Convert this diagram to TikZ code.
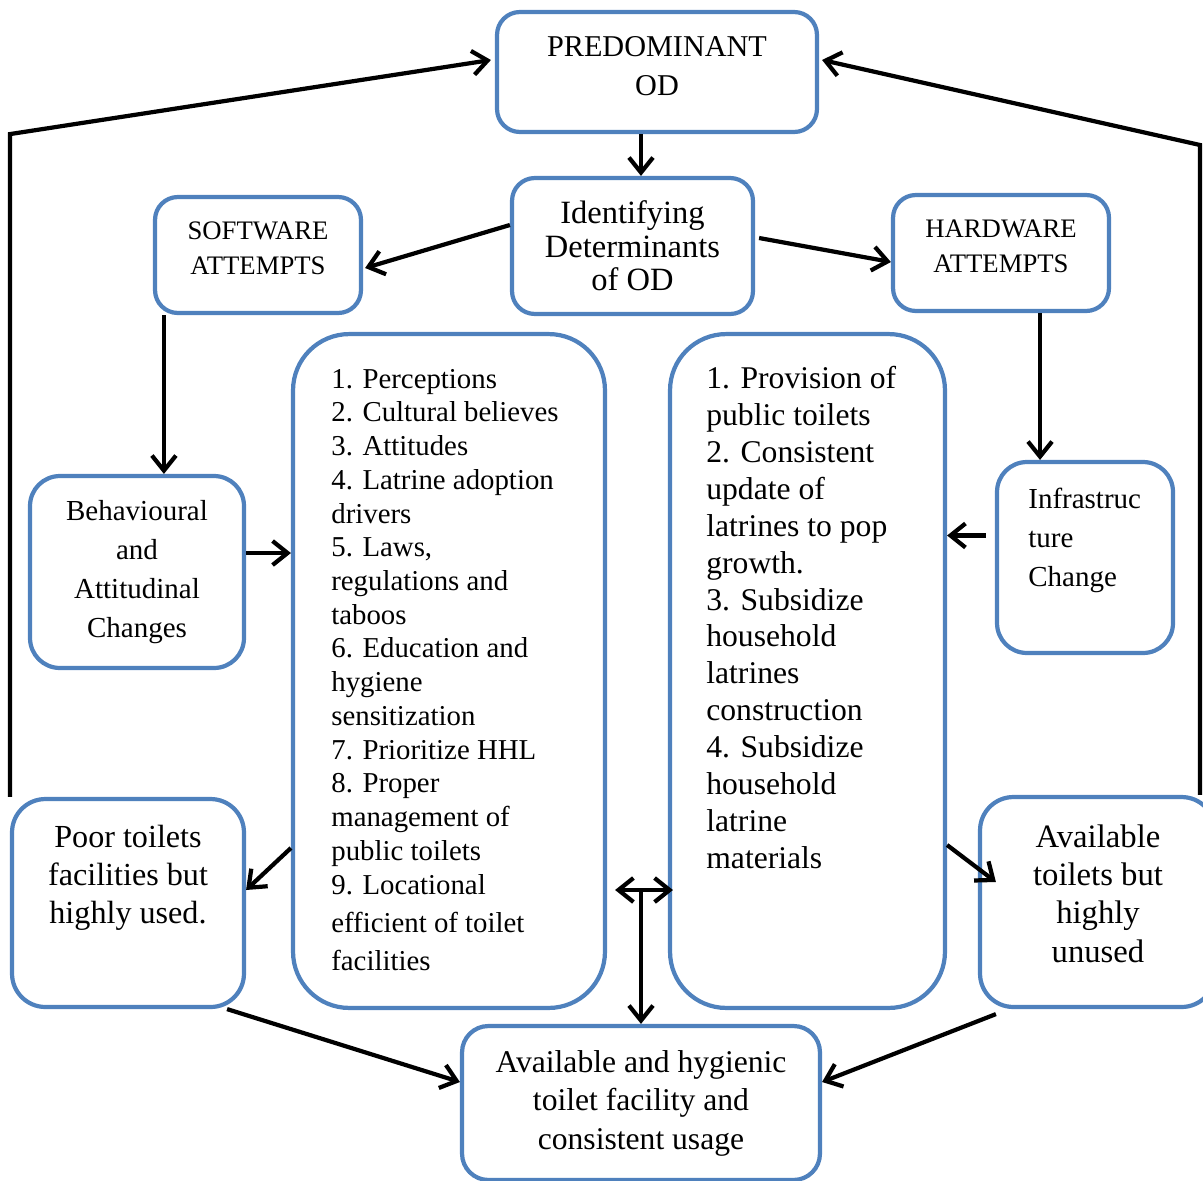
\documentclass[tikz,border=0pt]{standalone}
\usepackage{fontspec}
\setmainfont{Liberation Serif}
\usetikzlibrary{positioning,arrows.meta,calc}
\definecolor{boxblue}{RGB}{79,129,189}

\begin{document}
\begin{tikzpicture}[
  x=0.02cm, y=-0.02cm,
  box/.style={draw=boxblue, line width=2.4pt, rounded corners=13pt, fill=white,
              align=center, inner sep=0pt},
  listbox/.style={box, rounded corners=32pt},
  txt/.style={align=center, inner sep=0pt},
  ltxt/.style={align=left, inner sep=0pt, anchor=west},
  arr/.style={line width=2.4pt, -{Straight Barb[length=3mm,width=4.8mm]}},
  dbl/.style={line width=2.4pt, {Straight Barb[length=3mm,width=4.8mm]}-{Straight Barb[length=3mm,width=4.8mm]}}
]
\useasboundingbox (0,0) rectangle (1203,1180);
% boxes
\node[box, minimum width=6.4cm, minimum height=2.4cm] (pred) at (657,72) {};
\node[txt, font=\fontsize{17.2pt}{22pt}\selectfont] (pred-t) at (657,66) {PREDOMINANT\\OD};
\node[box, minimum width=4.82cm, minimum height=2.72cm,
      font=\fontsize{18.5pt}{19pt}\selectfont] (ident) at (632.5,246) {Identifying\\Determinants\\of OD};
\node[box, minimum width=4.12cm, minimum height=2.32cm] (soft) at (258,255) {};
\node[txt, font=\fontsize{15.2pt}{20pt}\selectfont] (soft-t) at (258,248.5) {SOFTWARE\\ATTEMPTS};
\node[box, minimum width=4.32cm, minimum height=2.32cm] (hard) at (1001,253) {};
\node[txt, font=\fontsize{15.2pt}{20pt}\selectfont] (hard-t) at (1001,246.5) {HARDWARE\\ATTEMPTS};
\node[box, rounded corners=17pt, minimum width=4.28cm, minimum height=3.84cm,
      font=\fontsize{16.5pt}{22.2pt}\selectfont] (behav) at (137,572) {Behavioural\\and\\Attitudinal\\Changes};
\node[listbox, minimum width=6.24cm, minimum height=13.48cm] (softlist) at (449,671) {};
\node[ltxt, font=\fontsize{16.4pt}{19.2pt}\selectfont] (softlist-t) at (331,670) {1. Perceptions\\
2. Cultural believes\\
3. Attitudes\\
4. Latrine adoption\\
drivers\\
5. Laws,\\
regulations and\\
taboos\\
6. Education and\\
hygiene\\
sensitization\\
7. Prioritize HHL\\
8. Proper\\
management of\\
public toilets\\
9. Locational\\[2.6pt]
efficient of toilet\\[2.6pt]
facilities};
\node[listbox, minimum width=5.5cm, minimum height=13.48cm] (hardlist) at (807.5,671) {};
\node[ltxt, font=\fontsize{18pt}{21pt}\selectfont] (hardlist-t) at (706,617.5) {1. Provision of\\
public toilets\\
2. Consistent\\
update of\\
latrines to pop\\
growth.\\
3. Subsidize\\
household\\
latrines\\
construction\\
4. Subsidize\\
household\\
latrine\\
materials};
\node[box, rounded corners=17pt, minimum width=3.52cm, minimum height=3.82cm] (infra) at (1085,557.5) {};
\node[ltxt, font=\fontsize{16.5pt}{22.2pt}\selectfont] (infra-t) at (1028,540) {Infrastruc\\ture\\Change};
\node[box, rounded corners=19pt, minimum width=4.64cm, minimum height=4.16cm] (poor) at (128,903) {};
\node[txt, font=\fontsize{18.3pt}{21.6pt}\selectfont] (poor-t) at (128,878) {Poor toilets\\facilities but\\highly used.};
\node[box, rounded corners=19pt, minimum width=4.7cm, minimum height=4.2cm] (avail) at (1097.5,902) {};
\node[txt, font=\fontsize{18.6pt}{21.8pt}\selectfont] (avail-t) at (1098,893.5) {Available\\toilets but\\highly\\unused};
\node[box, rounded corners=15pt, minimum width=7.16cm, minimum height=3.08cm,
      font=\fontsize{18pt}{21.9pt}\selectfont] (goal) at (641,1103) {Available and hygienic\\toilet facility and\\consistent usage};
\coordinate (rtop) at (1200,145);
% connectors
\draw[arr] (pred.south -| goal.north) -- (ident.north -| goal.north);
\draw[arr] ($(ident.west)+(0,-21)$) -- ($(soft.east)+(2,13)$);
\draw[arr] ($(ident.east)+(4,-8)$) -- ($(hard.west)+(0,9)$);
\draw[arr] ($(soft.south west)+(11,0)$) -- ($(soft.south west |- behav.north)+(11,0)$);
\draw[arr] ($(hard.south)+(39,0)$) -- ($(hard.south |- infra.north)+(39,0)$);
\draw[arr] ($(behav.east)+(0,-19)$) -- ($(behav.east -| softlist.west)+(0,-19)$);
\draw[arr] ($(infra.west)+(-9,-22)$) -- ($(infra.west -| hardlist.east)+(0,-22)$);
\draw[arr] ($(softlist.west)+(0,177)$) -- ($(poor.east)+(0,-13)$);
\draw[arr] ($(hardlist.east)+(0,174)$) -- ($(avail.west)+(18,-20)$);
\draw[dbl] ($(softlist.east)+(8,219)$) -- ($(hardlist.west)+(5,219)$);
\draw[arr] ($(softlist.east -| goal.north)+(0,219)$) -- (goal.north);
\draw[arr] ($(poor.south east)+(-19,0)$) -- ($(goal.west)+(0,-21)$);
\draw[arr] ($(avail.south west)+(18,5)$) -- ($(goal.east)+(0,-21)$);
\draw[arr] (poor.north west) -- (poor.north west |- pred.south) -- ($(pred.west)+(-4,-12)$);
\draw[arr] (rtop |- avail.north) -- (rtop) -- ($(pred.east)+(3,-12)$);
\end{tikzpicture}
\end{document}
